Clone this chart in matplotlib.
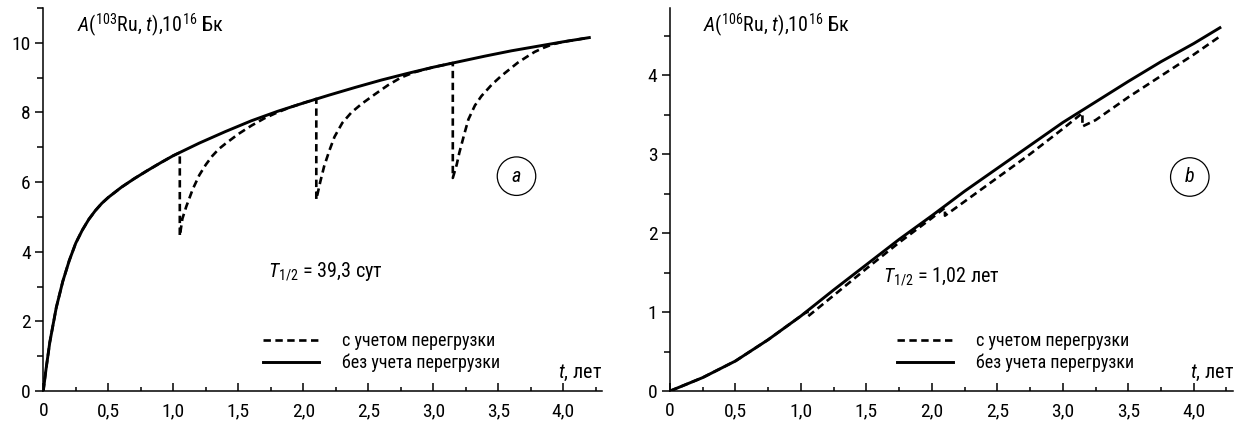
import matplotlib
matplotlib.use('Agg')
import matplotlib.pyplot as plt
from matplotlib import font_manager
from matplotlib.patches import Ellipse
from matplotlib.ticker import MultipleLocator, FuncFormatter
from matplotlib.lines import Line2D

entries = font_manager.fontManager.ttflist
names = {f.name for f in entries}

fam, stretch = 'Roboto', 'normal'
for cand in ['Roboto Condensed', 'Liberation Sans Narrow', 'Arial Narrow',
             'Noto Sans Condensed', 'Open Sans Condensed']:
    if cand in names:
        fam = cand
        break
else:
    for base in ['Roboto', 'Noto Sans', 'Open Sans', 'DejaVu Sans']:
        if any(f.name == base and str(f.stretch) in ('condensed', 'semi-condensed', '75', '87')
               for f in entries):
            fam, stretch = base, 'condensed'
            break

plt.rcParams['font.family'] = [fam, 'DejaVu Sans']
plt.rcParams['font.stretch'] = stretch
plt.rcParams['mathtext.fontset'] = 'custom'
sfx = ':condensed' if stretch == 'condensed' else ''
plt.rcParams['mathtext.rm'] = fam + sfx
plt.rcParams['mathtext.it'] = fam + ':italic' + sfx
plt.rcParams['mathtext.bf'] = fam + ':bold' + sfx

# ---------------- data: panel a (103Ru) ----------------
t_a_solid = [0, 0.02, 0.05, 0.1, 0.15, 0.2, 0.25, 0.3, 0.35, 0.4, 0.45, 0.5, 0.6, 0.7, 0.8, 0.9, 1.0,
             1.2, 1.4, 1.6, 1.8, 2.0, 2.2, 2.4, 2.6, 2.8, 3.0, 3.2, 3.4, 3.6, 3.8, 4.0, 4.2]
A_a_solid = [0, 0.6, 1.4, 2.4, 3.15, 3.75, 4.25, 4.62, 4.93, 5.18, 5.39, 5.56, 5.85, 6.1, 6.33, 6.55, 6.76,
             7.12, 7.45, 7.76, 8.03, 8.27, 8.5, 8.72, 8.93, 9.12, 9.3, 9.46, 9.62, 9.77, 9.9, 10.03, 10.15]

t_a_dash = [0, 0.02, 0.05, 0.1, 0.15, 0.2, 0.25, 0.3, 0.35, 0.4, 0.45, 0.5, 0.6, 0.7, 0.8, 0.9, 1.0,
            1.05, 1.05, 1.07, 1.1, 1.15, 1.2, 1.25, 1.3, 1.35, 1.4, 1.5, 1.6, 1.7, 1.8, 1.9, 2.0,
            2.1, 2.1, 2.13, 2.16, 2.2, 2.24, 2.3, 2.37, 2.45, 2.55, 2.65, 2.75, 2.85, 3.0,
            3.15, 3.15, 3.18, 3.2, 3.24, 3.27, 3.32, 3.37, 3.45, 3.52, 3.6, 3.65, 3.72, 3.78,
            3.85, 3.92, 4.0, 4.2]
A_a_dash = [0, 0.6, 1.4, 2.4, 3.15, 3.75, 4.25, 4.62, 4.93, 5.18, 5.39, 5.56, 5.85, 6.1, 6.33, 6.55, 6.76,
            6.85, 4.45, 4.95, 5.3, 5.8, 6.2, 6.5, 6.75, 6.95, 7.1, 7.38, 7.62, 7.83, 8.0, 8.15, 8.27,
            8.39, 5.5, 6.0, 6.45, 6.9, 7.3, 7.7, 8.0, 8.25, 8.52, 8.78, 9.0, 9.15, 9.3,
            9.42, 6.12, 6.5, 6.84, 7.4, 7.8, 8.2, 8.47, 8.8, 9.04, 9.28, 9.43, 9.6, 9.74,
            9.86, 9.96, 10.03, 10.15]

# ---------------- data: panel b (106Ru) ----------------
t_b_solid = [0, 0.25, 0.5, 0.75, 1.0, 1.25, 1.5, 1.75, 2.0, 2.25, 2.5, 2.75, 3.0, 3.25,
             3.5, 3.75, 4.0, 4.2]
A_b_solid = [0, 0.17, 0.38, 0.65, 0.95, 1.28, 1.6, 1.92, 2.22, 2.53, 2.82, 3.11, 3.4, 3.66,
             3.92, 4.17, 4.4, 4.6]

t_b_dash = [0, 0.25, 0.5, 0.75, 1.0, 1.05, 1.05, 1.25, 1.5, 1.75, 2.0, 2.1, 2.1, 2.25,
            2.5, 2.75, 3.0, 3.15, 3.15, 3.25, 3.5, 3.75, 4.0, 4.2]
A_b_dash = [0, 0.17, 0.38, 0.65, 0.95, 1.01, 0.94, 1.21, 1.55, 1.88, 2.19, 2.32, 2.22, 2.4,
            2.7, 3.0, 3.32, 3.52, 3.35, 3.43, 3.72, 3.99, 4.26, 4.49]

x_ticks = [0, 0.5, 1.0, 1.5, 2.0, 2.5, 3.0, 3.5, 4.0]
y_ticks_a = [0, 2, 4, 6, 8, 10]
y_ticks_b = [0, 1, 2, 3, 4]

label_dash = 'с учетом перегрузки'
label_solid = 'без учета перегрузки'

FS = 14
FT = 14.5
W, H = 1244, 429
fig = plt.figure(figsize=(W / 100, H / 100), dpi=100)

ax_a = fig.add_axes([43.3 / W, 1 - 391 / H, 559 / W, 383 / H])
ax_b = fig.add_axes([670 / W, 1 - 391 / H, 563 / W, 383 / H])


def fmt_x(v, pos):
    if abs(v) < 1e-9:
        return '0'
    return f'{v:.1f}'.replace('.', ',')


def style(ax, ylim, yticks, yminor):
    ax.set_xlim(0, 4.3)
    ax.set_ylim(*ylim)
    for s in ['top', 'right']:
        ax.spines[s].set_visible(False)
    for s in ['left', 'bottom']:
        ax.spines[s].set_linewidth(1.1)
    ax.set_xticks(x_ticks)
    ax.xaxis.set_minor_locator(MultipleLocator(0.25))
    ax.xaxis.set_major_formatter(FuncFormatter(fmt_x))
    ax.set_yticks(yticks)
    ax.yaxis.set_minor_locator(MultipleLocator(yminor))
    ax.tick_params(axis='x', which='major', direction='in', length=6, width=1.1,
                   labelsize=FS, pad=8)
    ax.tick_params(axis='x', which='minor', direction='in', length=3, width=1.1)
    ax.tick_params(axis='y', which='major', direction='out', length=6, width=1.1,
                   labelsize=FS, pad=3)
    ax.tick_params(axis='y', which='minor', direction='out', length=4, width=1.1)


style(ax_a, (0, 11), y_ticks_a, 1)
style(ax_b, (0, 4.85), y_ticks_b, 0.5)

for ax, ts, As, td, Ad in [(ax_a, t_a_solid, A_a_solid, t_a_dash, A_a_dash),
                           (ax_b, t_b_solid, A_b_solid, t_b_dash, A_b_dash)]:
    ax.plot(td, Ad, color='black', lw=1.9, dashes=(2.8, 1.7), solid_capstyle='butt')
    ax.plot(ts, As, color='black', lw=2.1)

# Legends
for ax, xf in [(ax_a, (263 - 43.3) / 559), (ax_b, (897 - 670) / 563)]:
    h1 = Line2D([], [], color='black', lw=1.9, dashes=(2.8, 1.7))
    h2 = Line2D([], [], color='black', lw=2.1)
    ax.legend([h1, h2], [label_dash, label_solid], loc='upper left',
              bbox_to_anchor=(xf, (391 - 332) / 383), frameon=False, fontsize=13,
              handlelength=3.1, handletextpad=1.3, labelspacing=0.22,
              borderpad=0, borderaxespad=0)

# Titles (y axis quantity)
ax_a.text(0.26, 10.5, r'$\mathit{A}$(${}^{103}$Ru, $\mathit{t}$),10$^{16}$ Бк',
          fontsize=FT, ha='left', va='center')
ax_b.text(0.25, 4.63, r'$\mathit{A}$(${}^{106}$Ru, $\mathit{t}$),10$^{16}$ Бк',
          fontsize=FT, ha='left', va='center')

# Half-life texts
ax_a.text(1.73, 3.42, r'$\mathit{T}_{1/2}$ = 39,3 сут', fontsize=FT, ha='left', va='center')
ax_b.text(1.63, 1.45, r'$\mathit{T}_{1/2}$ = 1,02 лет', fontsize=FT, ha='left', va='center')

# axis label t
ax_a.text(4.3, 0.52, r'$\mathit{t}$, лет', fontsize=FT, ha='right', va='center')
ax_b.text(4.31, 0.23, r'$\mathit{t}$, лет', fontsize=FT, ha='right', va='center')

# circled panel letters
ax_a.add_patch(Ellipse((3.64, 6.17), 38.5 / 130, 38.5 / 34.82, fill=False, lw=0.9, ec='black'))
ax_a.text(3.64, 6.17, r'$\mathit{a}$', fontsize=FT, ha='center', va='center')
ax_b.add_patch(Ellipse((3.97, 2.71), 38.5 / 131, 38.5 / 79, fill=False, lw=0.9, ec='black'))
ax_b.text(3.97, 2.71, r'$\mathit{b}$', fontsize=FT, ha='center', va='center')

fig.savefig('out.png', dpi=100)
